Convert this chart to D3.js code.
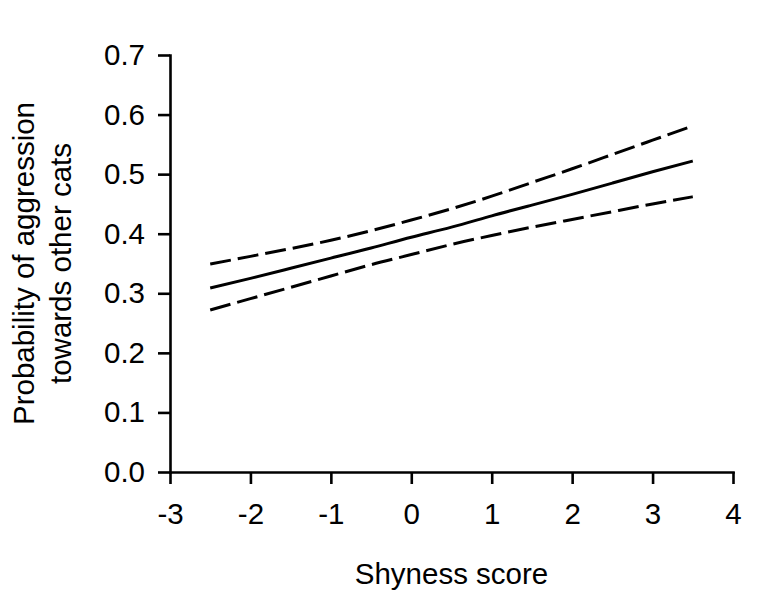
<!DOCTYPE html>
<html>
<head>
<meta charset="utf-8">
<script src="https://cdn.jsdelivr.net/npm/d3@7/dist/d3.min.js"></script>
<style>
  html, body { margin: 0; padding: 0; background: #fff; }
  svg { display: block; }
  text { font-family: "Liberation Sans", Arial, sans-serif; fill: #000; }
</style>
</head>
<body>
<svg id="chart" width="779" height="592"></svg>
<script>
// ---- data ----
const shyness = [-2.5, -2.0, -1.5, -1.0, -0.5, 0.0, 0.5, 1.0, 1.5, 2.0, 2.5, 3.0, 3.5];
const probFit = [0.309, 0.325, 0.342, 0.359, 0.376, 0.394, 0.411, 0.430, 0.448, 0.466, 0.485, 0.504, 0.522];
const probUpper = [0.349, 0.362, 0.375, 0.389, 0.405, 0.423, 0.442, 0.463, 0.486, 0.509, 0.533, 0.557, 0.581];
const probLower = [0.272, 0.291, 0.310, 0.329, 0.348, 0.365, 0.382, 0.397, 0.411, 0.424, 0.437, 0.450, 0.462];
const xTicks = [-3, -2, -1, 0, 1, 2, 3, 4];
const yTicks = [0.0, 0.1, 0.2, 0.3, 0.4, 0.5, 0.6, 0.7];
const xTitle = "Shyness score";
const yTitleLines = ["Probability of aggression", "towards other cats"];

// ---- layout ----
const svg = d3.select("#chart");
const mLeft = 170, mRight = 733, mTop = 55, mBottom = 472;
const x = d3.scaleLinear().domain([-3, 4]).range([mLeft, mRight]);
const y = d3.scaleLinear().domain([0, 0.7]).range([mBottom, mTop]);
const fontSize = 29.5;

// axes
const xAxis = d3.axisBottom(x).tickValues(xTicks).tickFormat(d => String(d))
  .tickSize(12).tickSizeOuter(0).tickPadding(19);
const yAxis = d3.axisLeft(y).tickValues(yTicks).tickFormat(d => d.toFixed(1))
  .tickSize(12).tickSizeOuter(0).tickPadding(13);

const gx = svg.append("g").attr("transform", `translate(0,${mBottom})`).call(xAxis);
const gy = svg.append("g").attr("transform", `translate(${mLeft},0)`).call(yAxis);

[gx, gy].forEach(g => {
  g.attr("font-size", null).attr("font-family", null);
  g.selectAll("path.domain").attr("stroke", "#000").attr("stroke-width", 2.6).attr("stroke-linecap", "square");
  g.selectAll(".tick line").attr("stroke", "#000").attr("stroke-width", 2.6);
  g.selectAll(".tick text").style("font-family", '"Liberation Sans", Arial, sans-serif')
    .style("font-size", fontSize + "px").attr("fill", "#000");
});

// lines
const pts = (arr) => shyness.map((s, i) => [s, arr[i]]);
const line = d3.line().x(d => x(d[0])).y(d => y(d[1])).curve(d3.curveNatural);

svg.append("path").datum(pts(probUpper)).attr("d", line)
  .attr("fill", "none").attr("stroke", "#000").attr("stroke-width", 3)
  .attr("stroke-dasharray", "21,7");
svg.append("path").datum(pts(probLower)).attr("d", line)
  .attr("fill", "none").attr("stroke", "#000").attr("stroke-width", 3)
  .attr("stroke-dasharray", "21,7");
svg.append("path").datum(pts(probFit)).attr("d", line)
  .attr("fill", "none").attr("stroke", "#000").attr("stroke-width", 3);

// titles
svg.append("text").attr("x", (mLeft + mRight) / 2).attr("y", 584)
  .attr("text-anchor", "middle").style("font-size", fontSize + "px").text(xTitle);

const yt = svg.append("text")
  .attr("transform", `translate(0,${(mTop + mBottom) / 2}) rotate(-90)`)
  .attr("text-anchor", "middle").style("font-size", fontSize + "px");
yt.append("tspan").attr("x", 0).attr("y", 34).text(yTitleLines[0]);
yt.append("tspan").attr("x", 0).attr("y", 71).text(yTitleLines[1]);
</script>
</body>
</html>
